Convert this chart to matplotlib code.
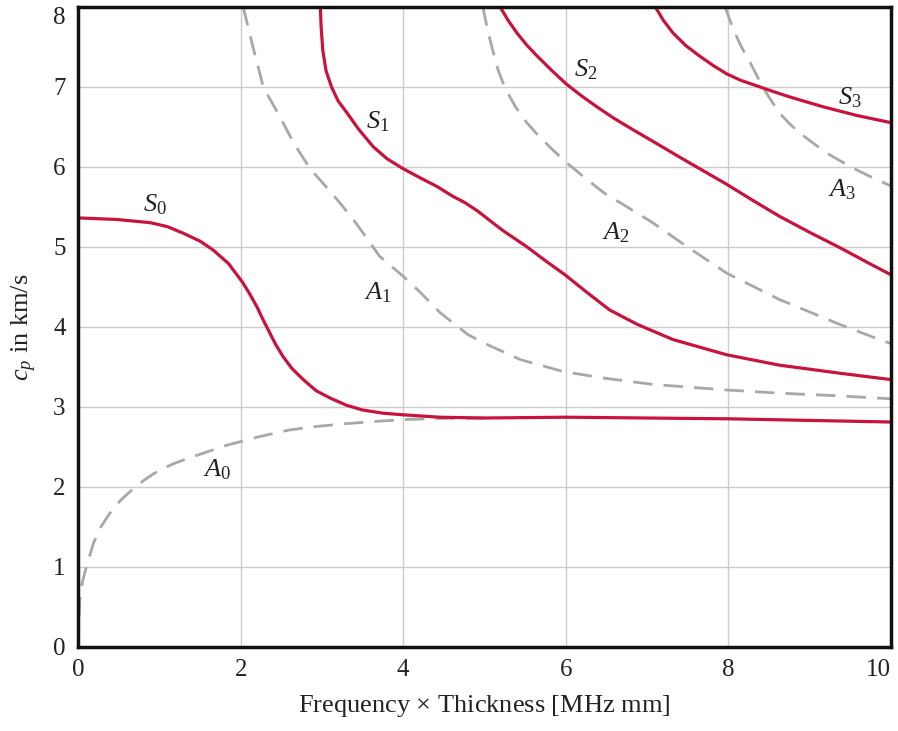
import numpy as np
import matplotlib
matplotlib.use('Agg')
import matplotlib.pyplot as plt

plt.rcParams['font.family'] = 'Liberation Serif'
plt.rcParams['mathtext.fontset'] = 'custom'
plt.rcParams['mathtext.rm'] = 'Liberation Serif'
plt.rcParams['mathtext.it'] = 'Liberation Serif:italic'

# ---- data (fd in MHz mm, cp in km/s) ----
s0_x = [0, 0.48, 0.89, 1.1, 1.29, 1.5, 1.66, 1.85, 2.02, 2.1, 2.2, 2.27, 2.34, 2.43, 2.52, 2.63, 2.77,
        2.93, 3.1, 3.3, 3.5, 3.75, 4.0, 4.45, 5, 6, 7, 8, 9, 10]
s0_y = [5.36, 5.34, 5.3, 5.25, 5.17, 5.07, 4.96, 4.79, 4.56, 4.43, 4.25, 4.1, 3.96, 3.78, 3.63, 3.48, 3.34,
        3.2, 3.11, 3.02, 2.96, 2.92, 2.9, 2.87, 2.86, 2.87, 2.86, 2.85, 2.83, 2.81]

s1_x = [2.98, 2.99, 3.01, 3.05, 3.12, 3.2, 3.31, 3.45, 3.63, 3.8, 3.99, 4.21, 4.42, 4.61, 4.76, 4.91,
        5.0, 5.1, 5.23, 5.52, 5.77, 5.99, 6.26, 6.54, 6.88, 7.32, 7.98, 8.63, 9.37, 10]
s1_y = [8.0, 7.75, 7.46, 7.2, 6.99, 6.82, 6.67, 6.47, 6.25, 6.1, 5.98, 5.86, 5.75, 5.63, 5.55, 5.45,
        5.38, 5.3, 5.2, 5.0, 4.81, 4.65, 4.43, 4.21, 4.03, 3.84, 3.65, 3.52, 3.42, 3.34]

s2_x = [5.19, 5.29, 5.40, 5.52, 5.65, 5.83, 6.01, 6.2, 6.38, 6.6, 6.83, 7.1, 7.40, 7.69, 7.98, 8.3,
        8.63, 9.0, 9.37, 9.7, 10]
s2_y = [8.0, 7.83, 7.67, 7.52, 7.38, 7.2, 7.03, 6.88, 6.75, 6.6, 6.46, 6.3, 6.12, 5.95, 5.78, 5.58,
        5.38, 5.18, 4.99, 4.81, 4.65]

s3_x = [7.1, 7.2, 7.32, 7.48, 7.65, 7.82, 7.98, 8.15, 8.35, 8.55, 8.76, 9.16, 9.58, 10]
s3_y = [8.0, 7.83, 7.67, 7.51, 7.38, 7.26, 7.16, 7.08, 7.01, 6.94, 6.87, 6.75, 6.64, 6.55]

a0_x = [0, 0.01, 0.02, 0.05, 0.09, 0.19, 0.28, 0.39, 0.52, 0.66, 0.82, 1.0, 1.2, 1.42, 1.83, 2.24,
        2.6, 2.89, 3.3, 3.7, 4.0, 4.5, 5.0]
a0_y = [0, 0.3, 0.59, 0.8, 0.96, 1.3, 1.5, 1.67, 1.83, 1.96, 2.09, 2.21, 2.3, 2.38, 2.52, 2.63,
        2.71, 2.75, 2.79, 2.82, 2.84, 2.855, 2.86]

a1_x = [2.03, 2.15, 2.28, 2.48, 2.65, 2.85, 3.05, 3.22, 3.4, 3.55, 3.71, 4.0, 4.21, 4.45, 4.61, 4.8,
        5.03, 5.44, 5.97, 6.46, 7.07, 7.98, 8.63, 9.3, 10]
a1_y = [8.0, 7.5, 6.99, 6.63, 6.3, 5.98, 5.75, 5.55, 5.32, 5.11, 4.88, 4.63, 4.43, 4.18, 4.05, 3.9,
        3.78, 3.59, 3.44, 3.36, 3.28, 3.21, 3.17, 3.14, 3.1]

a2_x = [4.98, 5.04, 5.10, 5.17, 5.25, 5.38, 5.52, 5.67, 5.84, 6.01, 6.26, 6.5, 6.67, 7.07, 7.45, 7.98,
        8.63, 9.37, 9.86, 10]
a2_y = [8.0, 7.7, 7.46, 7.2, 6.99, 6.75, 6.55, 6.38, 6.21, 6.05, 5.84, 5.65, 5.55, 5.3, 5.03, 4.67,
        4.34, 4.03, 3.84, 3.79]

a3_x = [7.96, 8.03, 8.1, 8.18, 8.27, 8.39, 8.5, 8.63, 8.75, 8.88, 9.05, 9.21, 9.4, 9.58, 9.78, 10]
a3_y = [8.0, 7.8, 7.63, 7.46, 7.3, 7.06, 6.87, 6.67, 6.54, 6.42, 6.29, 6.17, 6.06, 5.96, 5.86, 5.76]

labels = ['$S_0$', '$S_1$', '$S_2$', '$S_3$', '$A_0$', '$A_1$', '$A_2$', '$A_3$']
label_x = [0.95, 3.69, 6.24, 9.5, 1.71, 3.69, 6.62, 9.4]
label_y = [5.52, 6.56, 7.21, 6.86, 2.21, 4.43, 5.18, 5.71]

red = '#c8143c'
grey = '#a8a8a8'

fig = plt.figure(figsize=(8.98, 7.31), dpi=100)
ax = fig.add_axes([0.087, 0.115, 0.905, 0.876])

for xs, ys in [(a0_x, a0_y), (a1_x, a1_y), (a2_x, a2_y), (a3_x, a3_y)]:
    ax.plot(xs, ys, color=grey, lw=2.0, ls=(0, (7, 4)))
for xs, ys in [(s0_x, s0_y), (s1_x, s1_y), (s2_x, s2_y), (s3_x, s3_y)]:
    ax.plot(xs, ys, color=red, lw=2.3, solid_joinstyle='round')

for t, lx, ly in zip(labels, label_x, label_y):
    ax.text(lx, ly, t, fontsize=19, ha='center', va='center', color='#222222')

ax.set_xlim(0, 10)
ax.set_ylim(0, 8)
ax.set_xticks(np.arange(0, 11, 2))
ax.set_yticks(np.arange(0, 9, 1))
ax.grid(True, color='#cccccc', lw=1.0)
ax.set_axisbelow(True)
ax.tick_params(length=0, labelsize=18, pad=9, colors='#222222')
ax.get_xticklabels()[-1].set_horizontalalignment('right')
ax.get_yticklabels()[-1].set_verticalalignment('top')
for sp in ax.spines.values():
    sp.set_linewidth(2.5)
    sp.set_color('#111111')

ax.set_xlabel(r'Frequency $\times$ Thickness [MHz mm]', fontsize=19, labelpad=8, color='#222222')
ax.set_ylabel('$c_p$ in km/s', fontsize=19, labelpad=10, color='#222222')

fig.savefig('out.png', dpi=100)
